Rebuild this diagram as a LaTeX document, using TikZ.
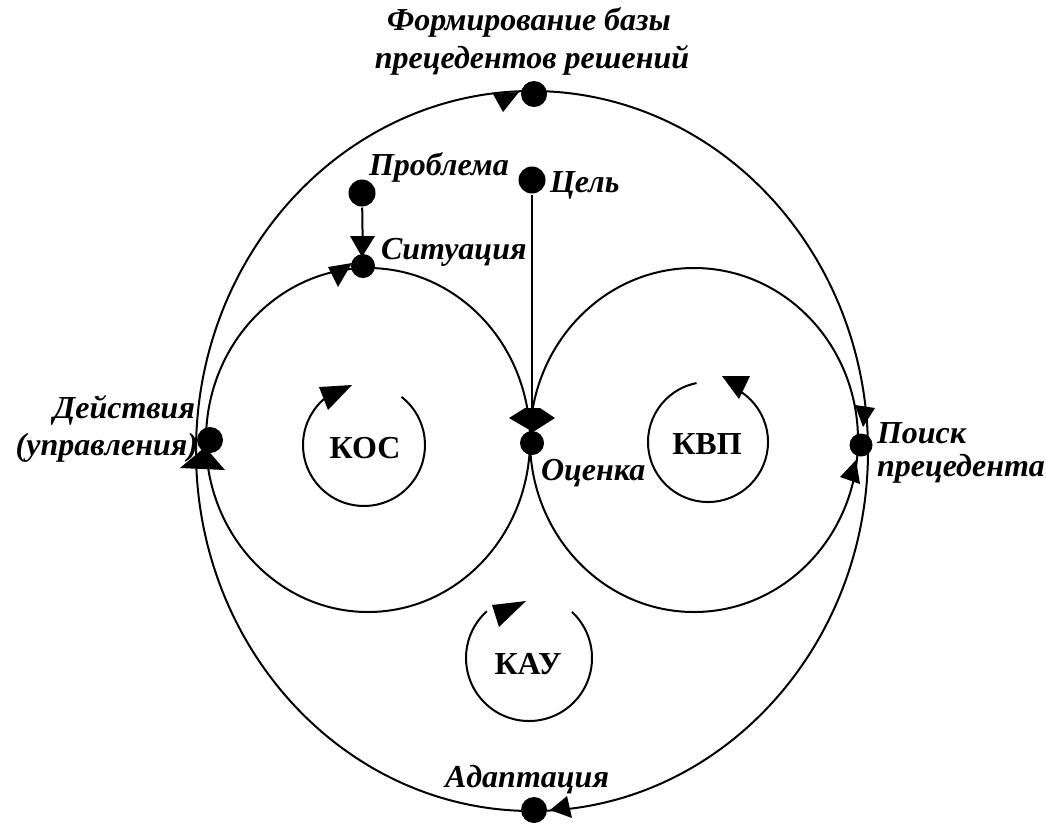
\documentclass[tikz,border=0pt]{standalone}
\usepackage{fontspec}
\setmainfont{Liberation Serif}
\begin{document}
\begin{tikzpicture}[x=1pt,y=1pt, line width=2pt,
  dot/.style={circle, fill=black, draw=none, inner sep=0pt, minimum size=#1},
  dot/.default=26pt,
  lbl/.style={font=\fontsize{32}{38}\selectfont\bfseries\itshape, inner sep=0pt},
  ttl/.style={font=\fontsize{32}{38}\selectfont\bfseries, inner sep=0pt},
  tri/.style={fill=black, draw=none}]
\useasboundingbox (0,-823) rectangle (1046,0);

% loops
\draw (532,-451) ellipse [x radius=336pt, y radius=360pt];
\draw (368,-440) ellipse [x radius=162pt, y radius=172pt];
\draw (694,-440) ellipse [x radius=164pt, y radius=172pt];

% small cycle arrows
\draw ([shift={(52:61)}]364,-445) arc[start angle=52, end angle=-229, radius=61];
\fill[tri] (319,-387) -- (352,-385) -- (328,-410) -- cycle;
\draw ([shift={(101:60)}]708,-442) arc[start angle=101, end angle=416, radius=60];
\fill[tri] (722,-376) -- (750,-376) -- (739,-399) -- cycle;
\draw ([shift={(47:63)}]529,-658) arc[start angle=47, end angle=-228, radius=63];
\fill[tri] (492,-605) -- (526,-601) -- (499,-627) -- cycle;

% points
\node[dot] (form) at (534,-94) {};
\node[dot=27pt] (problem) at (362,-193) {};
\node[dot=27pt] (goal) at (532,-180) {};
\node[dot=24pt] (situation) at (363,-266) {};
\node[dot] (actions) at (210,-440) {};
\node[dot=24pt] (assess) at (532,-443) {};
\node[dot=23pt] (search) at (861,-445) {};
\node[dot] (adapt) at (534,-810) {};

% connectors
\draw (problem) -- (situation);
\draw (goal) -- (assess);

% arrowheads
\fill[tri] (493,-94) -- (519,-92) -- (503,-112) -- cycle;
\fill[tri] (350,-236) -- (375,-236) -- (362,-257) -- cycle;
\fill[tri] (328,-267) -- (352,-263) -- (338,-287) -- cycle;
\fill[tri] (509,-418) -- (525,-408) -- (540,-408) -- (555,-418) -- (533,-432) -- cycle;
\fill[tri] (180,-468) -- (205,-447) -- (225,-470) -- cycle;
\fill[tri] (855,-405) -- (875,-408) -- (863,-427) -- cycle;
\fill[tri] (840,-477) -- (856,-460) -- (860,-484) -- cycle;
\fill[tri] (550,-810) -- (567,-796) -- (572,-818) -- cycle;

% labels
\node[lbl, anchor=base] (t1) at (529,-30) {Формирование базы};
\node[lbl, anchor=base] (t2) at (532,-68) {прецедентов решений};
\node[lbl, anchor=base west] (tp) at (368,-175) {Проблема};
\node[lbl, anchor=base west] (tg) at (549,-192) {Цель};
\node[lbl, anchor=base west] (ts) at (380,-259) {Ситуация};
\node[lbl, anchor=base east] (ta1) at (196,-418) {Действия};
\node[lbl, anchor=base east] (ta2) at (199,-455) {(управления)};
\node[lbl, anchor=base west] (te) at (540,-480) {Оценка};
\node[lbl, anchor=base west] (tq1) at (876,-443) {Поиск};
\node[lbl, anchor=base west] (tq2) at (876,-476) {прецедента};
\node[lbl, anchor=base] (tad) at (527,-787) {Адаптация};
\node[ttl] (kos) at (365,-448) {КОС};
\node[ttl] (kvp) at (707,-444) {КВП};
\node[ttl] (kau) at (528,-664) {КАУ};
\end{tikzpicture}
\end{document}
